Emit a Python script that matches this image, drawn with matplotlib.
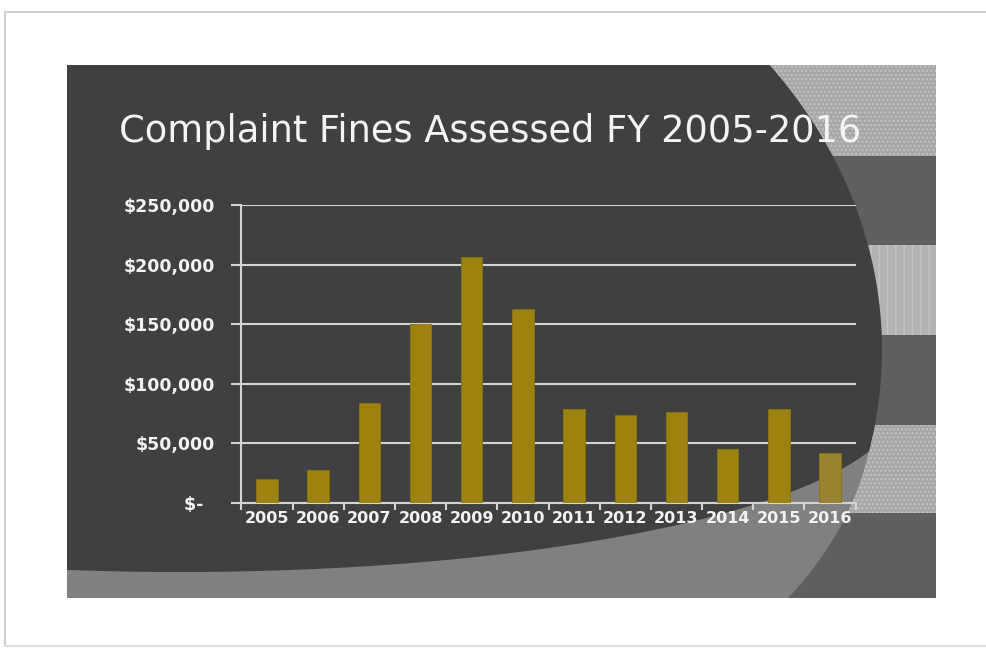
import numpy as np
import matplotlib
matplotlib.use("Agg")
import matplotlib.pyplot as plt
from matplotlib.patches import Rectangle, Polygon

# ---- data ----
years = ["2005", "2006", "2007", "2008", "2009", "2010",
         "2011", "2012", "2013", "2014", "2015", "2016"]
fines = [20000, 28000, 84000, 150000, 206000, 163000,
         79000, 74000, 76000, 45500, 78500, 42000]
ytick_vals = [0, 50000, 100000, 150000, 200000, 250000]
ytick_labels = ["$-  ", "$50,000", "$100,000", "$150,000", "$200,000", "$250,000"]
title = "Complaint Fines Assessed FY 2005-2016"

W, H = 987, 649
fig = plt.figure(figsize=(W / 100, H / 100), dpi=100)
fig.patch.set_facecolor("white")

# ---- background (slide decoration) in pixel coords ----
bg = fig.add_axes([0, 0, 1, 1])
bg.set_xlim(0, W)
bg.set_ylim(H, 0)
bg.axis("off")

# outer frame lines
bg.plot([5, W + 5], [12, 12], color="#cfcfcf", lw=1.5, zorder=0)
bg.plot([5, 5], [12, 646], color="#cfcfcf", lw=1.5, zorder=0)
bg.plot([5, W + 5], [646, 646], color="#dedede", lw=1.5, zorder=0)

SL, SR, ST, SB = 67, 936, 65, 598
# stripes on the right
bands = [(65, 156, "#a7a7a7", "...."), (156, 245, "#5f5f5f", None),
         (245, 335, "#b3b3b3", "||"), (335, 425, "#5f5f5f", None),
         (425, 513, "#a7a7a7", "...."), (513, 598, "#5f5f5f", None)]
for y0, y1, c, h in bands:
    bg.add_patch(Rectangle((SL, y0), SR - SL, y1 - y0, facecolor=c,
                           edgecolor="#c4c4c4" if h else c, hatch=h, lw=0, zorder=1))

# light gray lower band (ellipse 2)
yy2 = np.linspace(395, SB, 120)
x2 = 375 + 500 * np.sqrt(np.clip(1 - ((yy2 - 395) / 360) ** 2, 0, 1))
poly2 = [(SL, 395)] + list(zip(x2, yy2)) + [(SL, SB)]
bg.add_patch(Polygon(poly2, closed=True, facecolor="#808080", edgecolor="none", zorder=2))

# dark region: ellipse 1 right edge, ellipse 3 bottom edge
def e1x(y):
    return 282 + 600 * np.sqrt(np.clip(1 - ((y - 350) / 489) ** 2, 0, 1))

def e3y(x):
    return 572 - 170 * (1 - np.sqrt(np.clip(1 - ((x - 180) / 720) ** 2, 0, 1)))

xs = np.linspace(600, 899, 3000)
diff = xs - e1x(e3y(xs))
i = np.argmin(np.abs(diff))
x_int, y_int = xs[i], e3y(xs[i])
yy1 = np.linspace(ST, y_int, 200)
right = list(zip(e1x(yy1), yy1))
xb = np.linspace(x_int, SL, 200)
bottom = list(zip(xb, e3y(xb)))
poly1 = [(SL, ST)] + right + bottom
bg.add_patch(Polygon(poly1, closed=True, facecolor="#404040", edgecolor="none", zorder=3))

bg.text(119, 132, title, color="#f4f4f4", fontsize=26.5, fontfamily="DejaVu Sans",
        va="center", ha="left", zorder=5)

# ---- chart ----
ax = fig.add_axes([241.4 / W, 1 - 503 / H, 614.2 / W, 298 / H])
ax.patch.set_alpha(0)
x = np.arange(len(years))
colors = ["#9c820f"] * (len(years) - 1) + ["#9b8233"]
ax.bar(x, fines, width=0.42, color=colors, edgecolor="#8a7410", lw=0.6, zorder=3)
ax.set_xlim(-0.5, len(years) - 0.5)
ax.set_ylim(0, 250000)
ax.set_yticks(ytick_vals)
ax.set_yticklabels(ytick_labels)
ax.set_xticks(x)
ax.set_xticklabels(years)
ax.set_xticks(np.arange(-0.5, len(years)), minor=True)
ax.grid(axis="y", color="#d4d4d4", lw=1.5, zorder=1)
ax.tick_params(axis="x", which="major", length=0, pad=6, labelsize=11.5, labelcolor="#f2f2f2")
ax.tick_params(axis="x", which="minor", length=5, width=1.5, color="#d4d4d4", direction="out")
ax.tick_params(axis="y", length=7, width=1.5, color="#d4d4d4", pad=12,
               labelsize=12.5, labelcolor="#f2f2f2")
for lab in ax.get_xticklabels() + ax.get_yticklabels():
    lab.set_fontweight("bold")
for s in ["top", "right"]:
    ax.spines[s].set_visible(False)
for s in ["left", "bottom"]:
    ax.spines[s].set_color("#d4d4d4")
    ax.spines[s].set_linewidth(1.5)

fig.savefig("out.png", dpi=100, facecolor="white")
